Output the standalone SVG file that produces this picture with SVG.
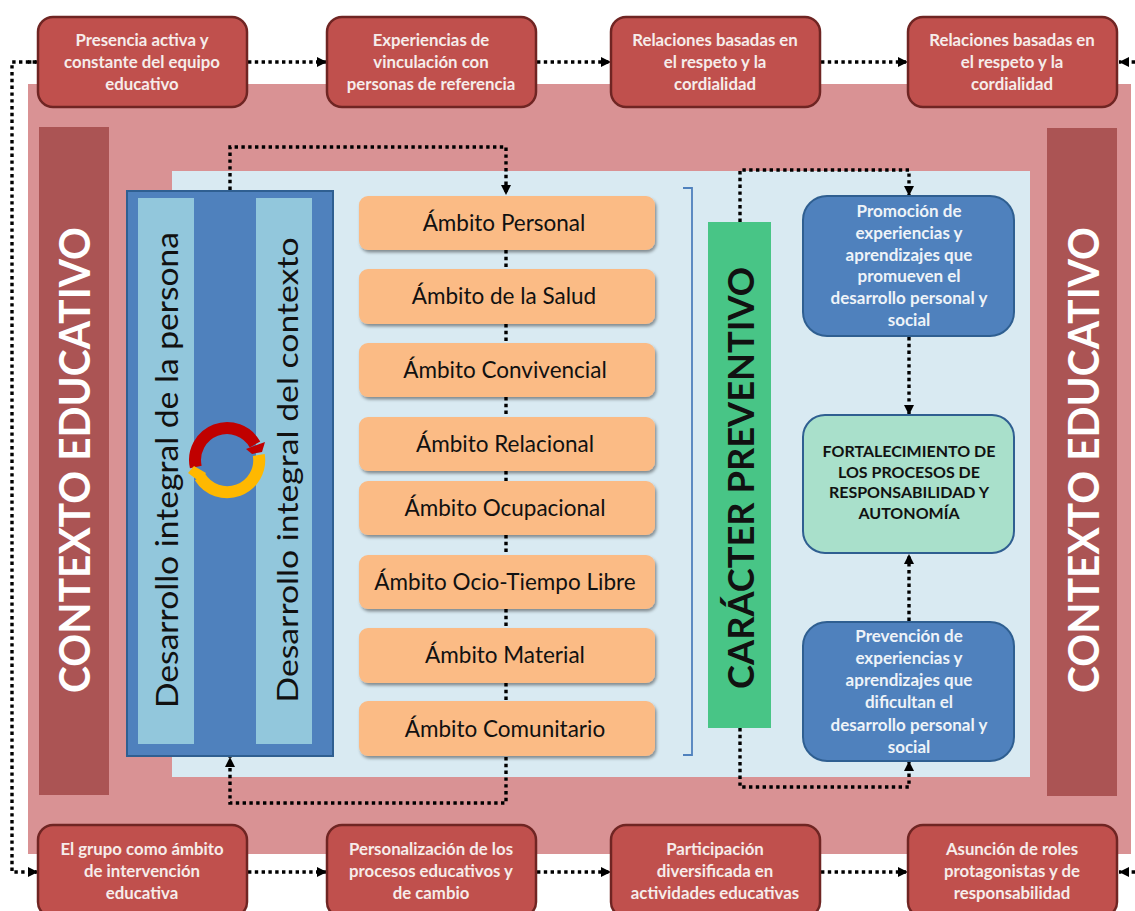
<svg xmlns="http://www.w3.org/2000/svg" width="1135" height="911" viewBox="0 0 1135 911">
<style>
text{font-family:Lato,"Open Sans","Liberation Sans",sans-serif;text-anchor:middle}
.red rect{fill:#c0504d;stroke:#6f2523;stroke-width:2.5}
.red text{fill:#f6ecea;font-weight:700;font-size:16.8px}
.org rect{fill:#fbbb85;filter:url(#sh)}
.org text{fill:#111;font-size:22.5px}
.blue rect{fill:#4f81bd;stroke:#2f5f91;stroke-width:2}
.blue text{fill:#eef3f8;font-weight:700;font-size:17px}
.side{fill:#ab5454}
.side-t{fill:#fff;font-size:42px;font-weight:700}
.dot{fill:none;stroke:#000;stroke-width:3.4;stroke-dasharray:3.4 3.4}
.vt{fill:#111}
</style>
<defs>
<filter id="sh" x="-5%" y="-10%" width="110%" height="125%"><feDropShadow dx="1.5" dy="2.5" stdDeviation="1.5" flood-color="#000" flood-opacity=".4"/></filter>
<marker id="a" viewBox="0 0 10 10" refX="10" refY="5" markerWidth="10" markerHeight="10" markerUnits="userSpaceOnUse" orient="auto"><path d="M0 0L10 5L0 10z" fill="#000"/></marker>
</defs>
<rect width="1135" height="911" fill="#fff"/>
<g id="background">
<rect x="28" y="84" width="1103" height="770" fill="#d99294"/>
<rect x="172" y="171" width="858" height="606" fill="#d9eaf2"/>
</g>
<g id="contexto-left"><rect class="side" x="39" y="127" width="70" height="668"/>
<text class="side-t" transform="translate(90,460) rotate(-90)" textLength="466" lengthAdjust="spacingAndGlyphs">CONTEXTO EDUCATIVO</text></g>
<g id="contexto-right"><rect class="side" x="1047" y="128" width="70" height="668"/>
<text class="side-t" transform="translate(1099,460) rotate(-90)" textLength="466" lengthAdjust="spacingAndGlyphs">CONTEXTO EDUCATIVO</text></g>
<g id="connectors">
<path class="dot" d="M36 62H12V872H36"/>
<path class="dot" d="M28 62H38M28 872H38" stroke-dasharray="none" marker-end="url(#a)"/>
<path class="dot" marker-end="url(#a)" d="M248 62H327"/>
<path class="dot" marker-end="url(#a)" d="M537 62H611"/>
<path class="dot" marker-end="url(#a)" d="M821 62H908"/>
<path class="dot" marker-end="url(#a)" d="M1135 62H1119"/>
<path class="dot" marker-end="url(#a)" d="M248 872H327"/>
<path class="dot" marker-end="url(#a)" d="M537 872H611"/>
<path class="dot" marker-end="url(#a)" d="M821 872H908"/>
<path class="dot" marker-end="url(#a)" d="M1135 872H1119"/>
<path class="dot" marker-end="url(#a)" d="M230 190V147H506V195"/>
<path class="dot" marker-end="url(#a)" d="M506 757V803H230V757"/>
<path class="dot" d="M506 250V269M506 324V343M506 397V417M506 471V481M506 535V555M506 609V628M506 683V701"/>
<path class="dot" marker-end="url(#a)" d="M740 222V170H909V196"/>
<path class="dot" marker-end="url(#a)" d="M740 728V787H909V761"/>
<path class="dot" marker-end="url(#a)" d="M909 337V415"/>
<path class="dot" marker-end="url(#a)" d="M909 621V554"/>
</g>
<g id="b1" class="red"><rect x="38" y="17" width="209" height="90" rx="15"/><text x="142" y="46">Presencia activa y</text><text x="142" y="68">constante del equipo</text><text x="142" y="90">educativo</text></g>
<g id="b2" class="red"><rect x="327" y="17" width="209" height="90" rx="15"/><text x="431" y="46">Experiencias de</text><text x="431" y="68">vinculación con</text><text x="431" y="90">personas de referencia</text></g>
<g id="b3" class="red"><rect x="611" y="17" width="209" height="90" rx="15"/><text x="715" y="46">Relaciones basadas en</text><text x="715" y="68">el respeto y la</text><text x="715" y="90">cordialidad</text></g>
<g id="b4" class="red"><rect x="908" y="17" width="209" height="90" rx="15"/><text x="1012" y="46">Relaciones basadas en</text><text x="1012" y="68">el respeto y la</text><text x="1012" y="90">cordialidad</text></g>
<g id="b5" class="red"><rect x="38" y="825" width="209" height="92" rx="15"/><text x="142" y="855">El grupo como ámbito</text><text x="142" y="877">de intervención</text><text x="142" y="899">educativa</text></g>
<g id="b6" class="red"><rect x="327" y="825" width="209" height="92" rx="15"/><text x="431" y="855">Personalización de los</text><text x="431" y="877">procesos educativos y</text><text x="431" y="899">de cambio</text></g>
<g id="b7" class="red"><rect x="611" y="825" width="209" height="92" rx="15"/><text x="715" y="855">Participación</text><text x="715" y="877">diversificada en</text><text x="715" y="899">actividades educativas</text></g>
<g id="b8" class="red"><rect x="908" y="825" width="209" height="92" rx="15"/><text x="1012" y="855">Asunción de roles</text><text x="1012" y="877">protagonistas y de</text><text x="1012" y="899">responsabilidad</text></g>
<g id="desarrollo">
<rect x="127" y="191" width="206" height="565" fill="#4f81bd" stroke="#2f5f91" stroke-width="2"/>
<rect x="138" y="198" width="56" height="546" fill="#92c7dc"/>
<rect x="256" y="198" width="56" height="546" fill="#92c7dc"/>
<text class="vt" transform="translate(178,470) rotate(-90)" font-size="31" textLength="476" lengthAdjust="spacingAndGlyphs">Desarrollo integral de la persona</text>
<text class="vt" transform="translate(298,470) rotate(-90)" font-size="29" textLength="465" lengthAdjust="spacingAndGlyphs">Desarrollo integral del contexto</text>
<path d="M195.8 467A32 32 0 0 1 255 444.5" fill="none" stroke="#c00000" stroke-width="12"/>
<path d="M246 449L265 442L262 452L252 454z" fill="#c00000"/>
<path d="M258.8 455A32 32 0 0 1 200 477" fill="none" stroke="#ffb800" stroke-width="12"/>
<path d="M188 473L194 466L206 473L200 482z" fill="#ffb800"/>
</g>
<g id="o1" class="org"><rect x="359" y="196" width="296" height="54" rx="9"/><text x="504" y="231">Ámbito Personal</text></g>
<g id="o2" class="org"><rect x="359" y="269" width="296" height="55" rx="9"/><text x="504" y="304">Ámbito de la Salud</text></g>
<g id="o3" class="org"><rect x="359" y="343" width="296" height="54" rx="9"/><text x="505" y="378">Ámbito Convivencial</text></g>
<g id="o4" class="org"><rect x="359" y="417" width="296" height="54" rx="9"/><text x="505" y="452">Ámbito Relacional</text></g>
<g id="o5" class="org"><rect x="359" y="481" width="296" height="54" rx="9"/><text x="505" y="516">Ámbito Ocupacional</text></g>
<g id="o6" class="org"><rect x="359" y="555" width="296" height="54" rx="9"/><text x="505" y="590">Ámbito Ocio-Tiempo Libre</text></g>
<g id="o7" class="org"><rect x="359" y="628" width="296" height="55" rx="9"/><text x="505" y="663">Ámbito Material</text></g>
<g id="o8" class="org"><rect x="359" y="701" width="296" height="55" rx="9"/><text x="505" y="737">Ámbito Comunitario</text></g>
<g id="bracket"><path d="M683 188H692V755H683" fill="none" stroke="#4f81bd" stroke-width="1.8"/></g>
<g id="caracter"><rect x="708" y="222" width="63" height="506" fill="#48c586"/>
<text transform="translate(754,478) rotate(-90)" font-size="37" font-weight="700" fill="#111" textLength="422" lengthAdjust="spacingAndGlyphs">CARÁCTER PREVENTIVO</text></g>
<g id="promocion" class="blue"><rect x="803" y="196" width="211" height="140" rx="24"/><text x="909" y="217">Promoción de</text><text x="909" y="239">experiencias y</text><text x="909" y="261">aprendizajes que</text><text x="909" y="282">promueven el</text><text x="909" y="304">desarrollo personal y</text><text x="909" y="326">social</text></g>
<g id="fortalecimiento"><rect x="803" y="415" width="211" height="138" rx="22" fill="#a9e0cb" stroke="#2f5f91" stroke-width="2"/>
<g font-size="16" font-weight="700" fill="#111"><text x="909" y="457">FORTALECIMIENTO DE</text><text x="909" y="478">LOS PROCESOS DE</text><text x="909" y="498">RESPONSABILIDAD Y</text><text x="909" y="519">AUTONOMÍA</text></g></g>
<g id="prevencion" class="blue"><rect x="803" y="622" width="211" height="139" rx="24"/><text x="909" y="642">Prevención de</text><text x="909" y="664">experiencias y</text><text x="909" y="686">aprendizajes que</text><text x="909" y="708">dificultan  el</text><text x="909" y="731">desarrollo personal y</text><text x="909" y="753">social</text></g>
</svg>
